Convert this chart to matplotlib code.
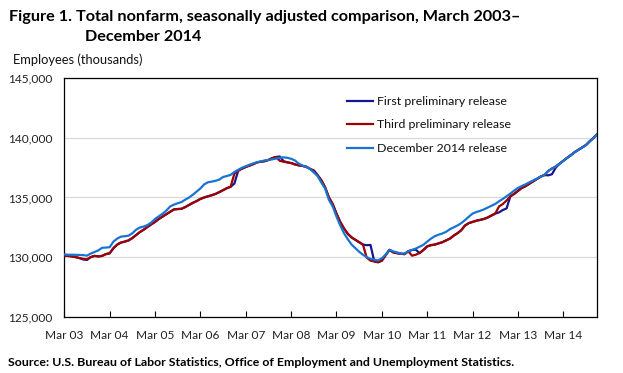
import matplotlib
matplotlib.use('Agg')
import matplotlib.pyplot as plt
from matplotlib.lines import Line2D
from matplotlib.ticker import FuncFormatter

plt.rcParams['font.family'] = ['Lato', 'DejaVu Sans']

# ---------------- data (thousands of employees, Mar 2003 .. Dec 2014) ----------------
tick_labels = ['Mar 03', 'Mar 04', 'Mar 05', 'Mar 06', 'Mar 07', 'Mar 08',
               'Mar 09', 'Mar 10', 'Mar 11', 'Mar 12', 'Mar 13', 'Mar 14']
series_names = ['First preliminary release', 'Third preliminary release',
                'December 2014 release']

dec2014 = [
    130220, 130200, 130200, 130190, 130180, 130170, 130120, 130300, 130430, 130560,
    130780, 130800, 130830, 131300, 131550, 131720, 131750, 131800, 132000, 132300,
    132480, 132560, 132690, 132900, 133200, 133420, 133640, 133900, 134250, 134400,
    134520, 134620, 134820, 135000, 135230, 135500, 135760, 136100, 136280, 136330,
    136400, 136500, 136720, 136800, 136900, 137140, 137320, 137500, 137620, 137750,
    137860, 137960, 138030, 138110, 138150, 138200, 138260, 138330, 138370, 138330,
    138250, 138110, 137850, 137680, 137560, 137400, 137100, 136800, 136250, 135750,
    134800, 134250, 133400, 132650, 132000, 131500, 131050, 130750, 130450, 130200,
    130000, 129850, 129780, 129720, 129900, 130200, 130620, 130480, 130400, 130300,
    130300, 130480, 130600, 130720, 130880, 131030, 131300, 131550, 131750, 131880,
    131980, 132120, 132340, 132500, 132650, 132850, 133100, 133390, 133650, 133780,
    133880, 134000, 134150, 134300, 134460, 134680, 134880, 135100, 135330, 135580,
    135800, 135960, 136100, 136270, 136420, 136580, 136740, 136900, 137220, 137430,
    137600, 137830, 138080, 138320, 138550, 138800, 139000, 139200, 139400, 139720,
    140000, 140330]

third_prelim = [
    130120, 130100, 130060, 130000, 129920, 129850, 129820, 130000, 130100, 130060,
    130100, 130250, 130320, 130750, 131050, 131220, 131300, 131400, 131600, 131850,
    132100, 132300, 132530, 132750, 132950, 133200, 133400, 133600, 133800, 134000,
    134030, 134050, 134200, 134380, 134550, 134700, 134880, 135000, 135100, 135190,
    135300, 135450, 135620, 135780, 135900, 137000, 137250, 137420, 137560, 137680,
    137800, 137950, 138000, 138050, 138150, 138300, 138400, 138080, 138000, 137950,
    137890, 137780, 137700, 137650, 137580, 137400, 137200, 136850, 136440, 135850,
    135000, 134450, 133650, 132950, 132400, 131950, 131650, 131450, 131250, 131050,
    129950, 129700, 129640, 129580, 129700, 130150, 130600, 130400, 130330, 130280,
    130250, 130480, 130120, 130200, 130350, 130600, 130900, 131000, 131050, 131150,
    131250, 131400, 131550, 131800, 132000, 132250, 132650, 132850, 132950, 133050,
    133120, 133200, 133320, 133480, 133650, 134250, 134450, 134750, 135100, 135300,
    135550, 135800, 135950, 136150, 136350, 136550, 136750, 136880, 137220, 137430,
    137600, 137830, 138080, 138320, 138550, 138800, 139000, 139200, 139400, 139720,
    140000, 140330]

first_prelim = [
    130120, 130100, 130060, 130000, 129920, 129800, 129760, 130000, 130100, 130060,
    130100, 130250, 130320, 130750, 131050, 131220, 131300, 131400, 131600, 131850,
    132100, 132300, 132530, 132750, 132950, 133200, 133400, 133600, 133800, 134000,
    134030, 134050, 134200, 134380, 134550, 134700, 134880, 135000, 135100, 135190,
    135300, 135450, 135620, 135780, 135900, 136170, 137250, 137420, 137560, 137680,
    137800, 137950, 138000, 138050, 138150, 138300, 138400, 138440, 138050, 137950,
    137890, 137780, 137700, 137650, 137580, 137400, 137280, 136900, 136440, 135850,
    135000, 134450, 133650, 132950, 132400, 131950, 131650, 131450, 131250, 131050,
    131000, 131020, 129640, 129560, 129700, 130150, 130600, 130400, 130330, 130280,
    130250, 130500, 130600, 130620, 130330, 130600, 130900, 131000, 131050, 131150,
    131250, 131400, 131550, 131800, 132000, 132250, 132650, 132850, 132950, 133050,
    133120, 133200, 133320, 133480, 133650, 133750, 133950, 134080, 135100, 135300,
    135550, 135800, 135950, 136150, 136350, 136550, 136750, 136880, 136860, 136950,
    137500, 137830, 138080, 138320, 138550, 138800, 139000, 139200, 139400, 139720,
    140000, 140330]

months = list(range(len(dec2014)))          # 0 = Mar 2003
tick_pos = [12 * i for i in range(len(tick_labels))]
y_ticks = [125000, 130000, 135000, 140000, 145000]

# ---------------- styling ----------------
W, H = 623, 373
C_FIRST = '#16168f'
C_THIRD = '#9e0000'
C_DEC = '#1874d2'

fig = plt.figure(figsize=(W / 100, H / 100), dpi=100)
L, R, T, B = 64.3, 597.3, 78.3, 316.7
ax = fig.add_axes([L / W, 1 - B / H, (R - L) / W, (B - T) / H])

ax.plot(months, first_prelim, color=C_FIRST, lw=1.6, zorder=3)
ax.plot(months, third_prelim, color=C_THIRD, lw=1.6, zorder=4)
ax.plot(months, dec2014, color=C_DEC, lw=1.6, zorder=5)

ax.set_xlim(0, months[-1])
ax.set_ylim(y_ticks[0], y_ticks[-1])
ax.set_yticks(y_ticks)
ax.yaxis.set_major_formatter(FuncFormatter(lambda v, p: f'{int(v):,}'))
ax.set_xticks(tick_pos)
ax.set_xticklabels(tick_labels)
ax.grid(axis='y', color='#d9d9d9', lw=0.9, zorder=0)
ax.set_axisbelow(True)
for s in ax.spines.values():
    s.set_color('black')
    s.set_linewidth(0.9)
ax.tick_params(axis='x', direction='in', length=4.3, width=0.8, pad=9.5,
               labelsize=8.6, colors='black', labelcolor='#222222')
ax.tick_params(axis='y', length=0, pad=8.6, labelsize=8.6, labelcolor='#222222')

def fx(px):
    return px / W

def fy(py):
    return 1 - py / H

t1 = fig.text(fx(9.3), fy(20.7), 'Figure 1. Total nonfarm, seasonally adjusted comparison, March 2003\u2013',
              fontsize=11, fontweight='bold', va='baseline', ha='left')
t2 = fig.text(fx(85), fy(40.7), 'December 2014',
              fontsize=11, fontweight='bold', va='baseline', ha='left')
t3 = fig.text(fx(12.7), fy(63.5), 'Employees (thousands)',
              fontsize=8.6, va='baseline', ha='left', color='#111111')
t4 = fig.text(fx(8), fy(366.5),
              'Source: U.S. Bureau of Labor Statistics, Office of Employment and Unemployment Statistics.',
              fontsize=8.6, fontweight='bold', va='baseline', ha='left')

# legend (manual, frameless)
leg_rows = [101.2, 124.4, 148.0]
leg_cols = [C_FIRST, C_THIRD, C_DEC]
leg_texts = []
for name, col, yy in zip(series_names, leg_cols, leg_rows):
    fig.add_artist(Line2D([fx(347), fx(373)], [fy(yy), fy(yy)], color=col, lw=1.6))
    leg_texts.append(fig.text(fx(377), fy(yy), name, fontsize=8.6,
                              va='center', ha='left', color='#111111'))

# fit text widths to the reference
fig.canvas.draw()
rend = fig.canvas.get_renderer()
def fit(t, target):
    w = t.get_window_extent(rend).width
    t.set_fontsize(t.get_fontsize() * target / w)

fit(t1, 511)
t2.set_fontsize(t1.get_fontsize())
fit(t3, 129)
fit(t4, 504)
for lt in leg_texts:
    pass
fit(leg_texts[0], 130)
for lt in leg_texts[1:]:
    lt.set_fontsize(leg_texts[0].get_fontsize())

fig.savefig('out.png', dpi=100)
